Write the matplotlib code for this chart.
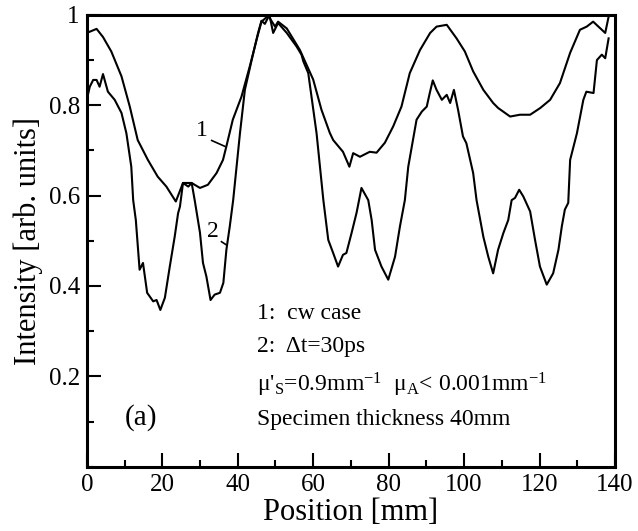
import matplotlib
matplotlib.use("Agg")
import matplotlib.pyplot as plt
from matplotlib.ticker import MultipleLocator

# curve 1: cw case
pos_cw = [0, 2.6, 4.3, 6.5, 9.2, 11.4, 13.5, 16.2, 18.8, 21.1, 23.6, 25.5, 27.8,
          30, 32.1, 34.4, 36.1, 37, 38.7, 41, 43.2, 45, 46.3, 48.1, 49.9, 50.7,
          53, 56.5, 60, 62.2, 64.4, 65.3, 67.9, 69.6, 70.6, 72.4, 75, 76.8, 79,
          81.2, 83.4, 85.6, 88.3, 91, 92.7, 95.4, 98, 100.2, 102.4, 105.1, 107.7,
          109, 112.2, 114.8, 117.5, 120.2, 122.8, 125.4, 128.1, 130.7, 132.5,
          134.2, 135.6, 137.4, 138.4]
int_cw = [0.960, 0.969, 0.951, 0.919, 0.864, 0.797, 0.723, 0.679, 0.642, 0.620,
          0.587, 0.628, 0.628, 0.617, 0.624, 0.650, 0.679, 0.709, 0.768, 0.819,
          0.886, 0.945, 0.985, 0.998, 0.974, 0.985, 0.970, 0.922, 0.857, 0.790,
          0.739, 0.723, 0.697, 0.664, 0.694, 0.686, 0.697, 0.695, 0.717, 0.753,
          0.797, 0.871, 0.922, 0.960, 0.974, 0.978, 0.948, 0.919, 0.875, 0.834,
          0.805, 0.794, 0.775, 0.779, 0.779, 0.794, 0.812, 0.849, 0.916, 0.967,
          0.974, 0.985, 0.974, 0.960, 1.000]

# curve 2: dt = 30 ps
pos_dt = [0, 0.8, 1.7, 2.6, 3.4, 4.3, 5.6, 7.4, 9.2, 10.5, 11.8, 12.3, 13, 13.6,
          14, 14.9, 16, 17.6, 18.5, 19.5, 20.7, 22, 23.3, 24.2, 24.7, 25.5, 26.9,
          27.8, 28.6, 30, 30.8, 31.7, 32.8, 33.9, 35.3, 36.2, 37, 37.9, 38.8,
          40.6, 41.9, 43.7, 45.4, 46.3, 47.2, 48.4, 49.4, 50.7, 53, 55.6, 56.9,
          57.4, 58.7, 60.9, 62.7, 64, 65.3, 66.6, 67.9, 68.8, 70.2, 71.5, 72.8,
          74.6, 75.5, 76.4, 78.1, 79.9, 81.7, 83, 84.3, 85.2, 87.4, 88.8, 90.1,
          90.9, 91.7, 92.7, 94.1, 95.4, 96.3, 97.3, 98.4, 99.7, 100.6, 102.4,
          103.3, 105.1, 106.4, 107.7, 109, 110.4, 111.7, 112.6, 113.5, 114.6,
          115.7, 117.5, 118.8, 120.1, 121.9, 123.6, 125, 125.9, 126.7, 127.6,
          128.1, 129.9, 131.6, 132.4, 134.3, 135.2, 136.5, 137.4, 138.3]
int_dt = [0.812, 0.841, 0.856, 0.856, 0.841, 0.869, 0.830, 0.812, 0.783, 0.738,
          0.664, 0.590, 0.546, 0.480, 0.436, 0.451, 0.385, 0.366, 0.369, 0.347,
          0.374, 0.443, 0.509, 0.561, 0.576, 0.628, 0.620, 0.628, 0.590, 0.518,
          0.451, 0.421, 0.369, 0.381, 0.385, 0.407, 0.480, 0.532, 0.590, 0.738,
          0.834, 0.900, 0.960, 0.987, 0.980, 1.000, 0.960, 0.982, 0.960, 0.930,
          0.912, 0.897, 0.871, 0.738, 0.590, 0.502, 0.473, 0.443, 0.469, 0.473,
          0.518, 0.562, 0.617, 0.590, 0.546, 0.480, 0.443, 0.414, 0.465, 0.532,
          0.590, 0.664, 0.768, 0.786, 0.797, 0.827, 0.855, 0.834, 0.812, 0.823,
          0.805, 0.834, 0.790, 0.731, 0.716, 0.650, 0.590, 0.509, 0.465, 0.428,
          0.480, 0.517, 0.546, 0.590, 0.595, 0.613, 0.598, 0.565, 0.502, 0.443,
          0.403, 0.428, 0.480, 0.532, 0.569, 0.584, 0.679, 0.738, 0.812, 0.830,
          0.827, 0.900, 0.912, 0.904, 0.948]

x_ticks = [0, 20, 40, 60, 80, 100, 120, 140]
y_ticks = [0.2, 0.4, 0.6, 0.8, 1.0]
y_tick_labels = ["0.2", "0.4", "0.6", "0.8", "1"]

plt.rcParams["font.family"] = ["Liberation Serif", "DejaVu Serif"]
plt.rcParams["mathtext.fontset"] = "custom"
plt.rcParams["mathtext.rm"] = "Liberation Serif"
plt.rcParams["mathtext.it"] = "Liberation Serif"

fig = plt.figure(figsize=(6.38, 5.31), dpi=100)
ax = fig.add_axes([0.136, 0.121, 0.828, 0.851])

ax.plot(pos_cw, int_cw, color="black", lw=1.5)
ax.plot(pos_dt, int_dt, color="black", lw=1.5)

# curve labels with short leader lines
ax.text(30.4, 0.745, "1", fontsize=17, ha="center", va="center")
ax.plot([33.1, 36.6], [0.722, 0.709], color="black", lw=1.2)
ax.text(33.5, 0.52, "2", fontsize=17, ha="center", va="center")
ax.plot([35.7, 37.0], [0.498, 0.491], color="black", lw=1.2)

ax.text(14.5, 0.11, "(a)", fontsize=21, ha="center", va="center")
ax.text(45, 0.34, "1:  cw case", fontsize=17, va="center")
ax.text(45, 0.266, "2:  \u0394t=30ps", fontsize=17, va="center")
ax.text(45, 0.181, "\u03bc$'_\\mathrm{S}$=0.9mm$^{-1}$  \u03bc$_\\mathrm{A}$< 0.001mm$^{-1}$",
        fontsize=17, va="center")
ax.text(45, 0.104, "Specimen thickness 40mm", fontsize=17, va="center")

ax.set_xlim(0, 140)
ax.set_ylim(0, 1)
ax.set_xticks(x_ticks)
ax.set_yticks(y_ticks)
ax.set_yticklabels(y_tick_labels)
ax.xaxis.set_minor_locator(MultipleLocator(10))
ax.yaxis.set_minor_locator(MultipleLocator(0.1))
ax.tick_params(which="both", direction="in", top=False, right=False,
               width=1.5, labelsize=18, pad=5)
ax.tick_params(which="major", length=10)
ax.tick_params(which="minor", length=5)
for side in ax.spines.values():
    side.set_linewidth(2.2)

ax.set_xlabel("Position [mm]", fontsize=22, labelpad=2)
ax.set_ylabel("Intensity [arb. units]", fontsize=22, labelpad=4)

fig.savefig("out.png", dpi=100)
